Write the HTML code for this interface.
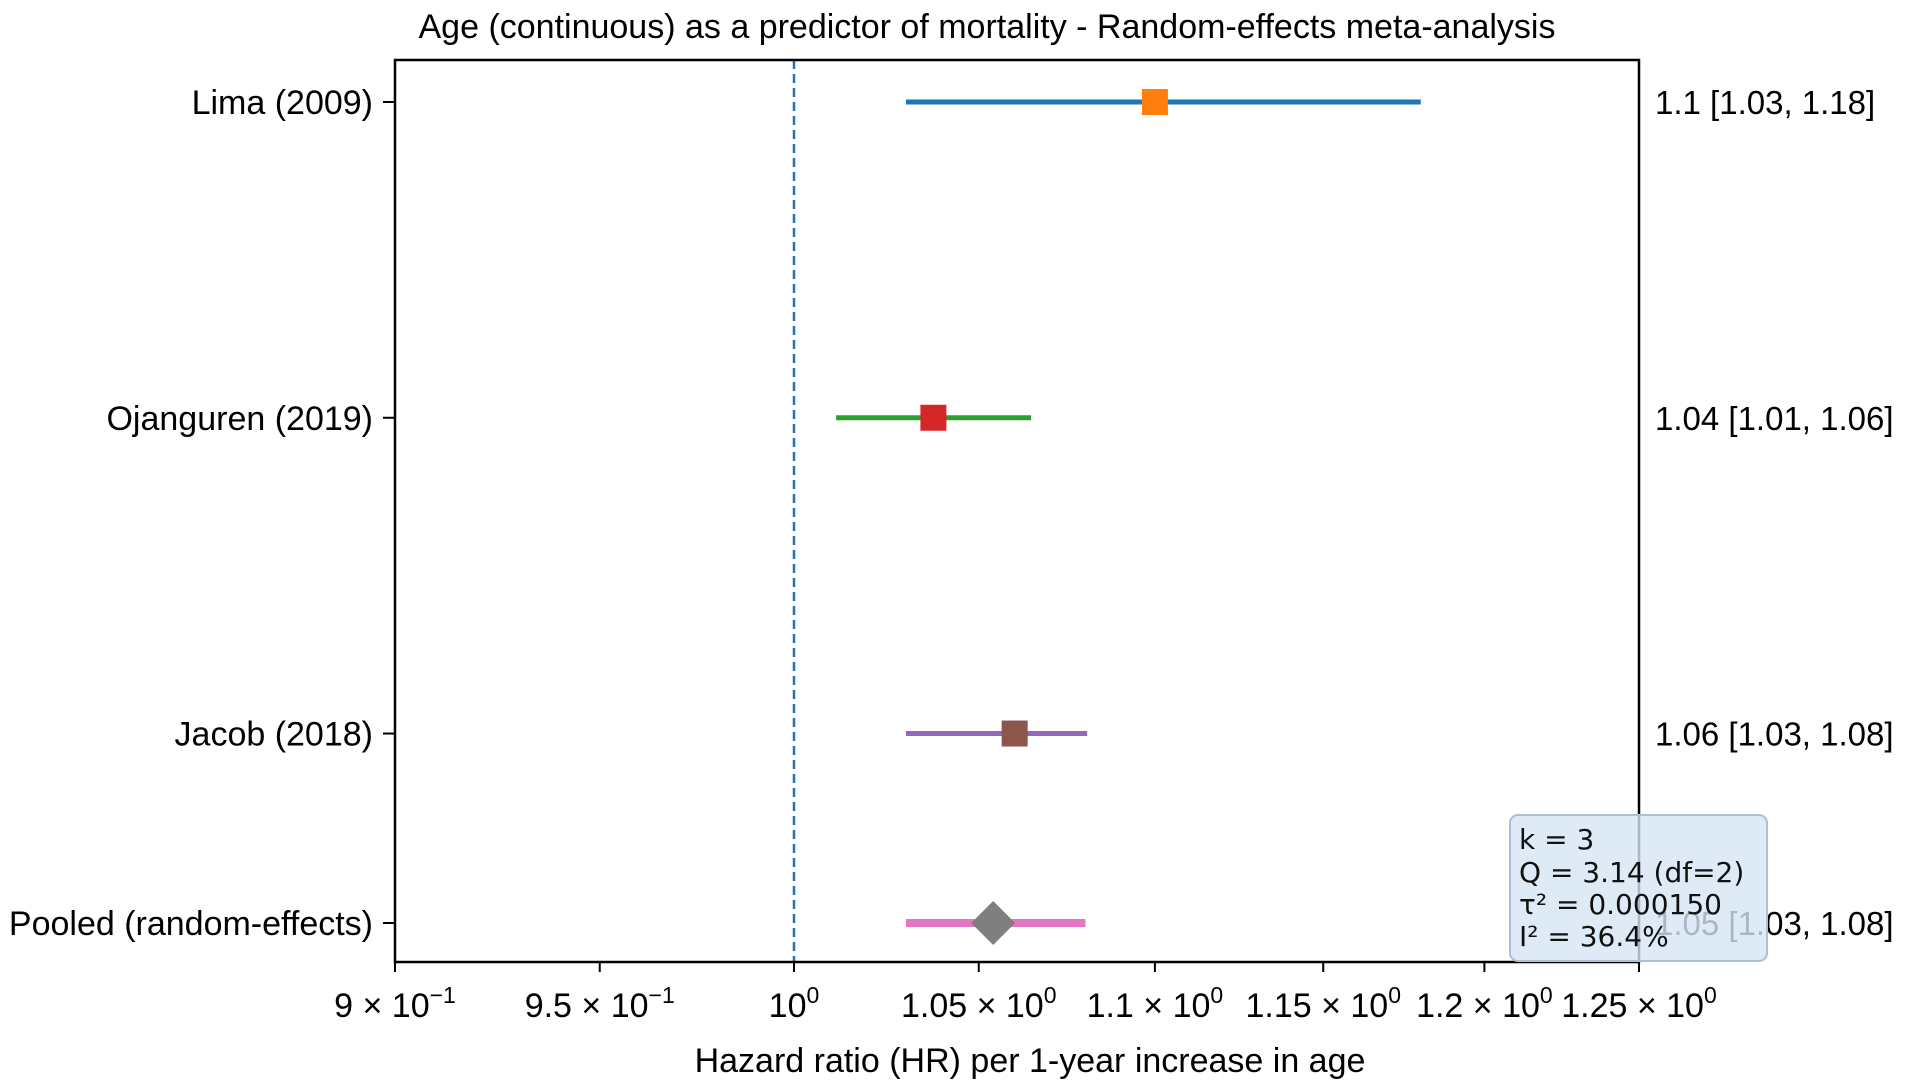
<!DOCTYPE html>
<html><head><meta charset="utf-8"><style>
body{margin:0;background:#fff;}
svg{display:block;font-family:"Liberation Sans",Arial,sans-serif;}
</style></head><body>
<svg id="chart" width="1913" height="1087" viewBox="0 0 1913 1087">
<text x="987" y="38" font-size="34" text-anchor="middle" fill="#000">Age (continuous) as a predictor of mortality - Random-effects meta-analysis</text>
<g id="plot"></g>
<g id="stats-box">
<rect x="1510" y="815" width="257" height="146" rx="8" fill="#d6e6f4" fill-opacity="0.8" stroke="#aebfd0" stroke-width="2"/>
<g font-family="'DejaVu Sans',sans-serif" font-size="28" fill="#111">
<text x="1519" y="849">k = 3</text>
<text x="1519" y="882">Q = 3.14 (df=2)</text>
<text x="1519" y="914">τ² = 0.000150</text>
<text x="1519" y="946">I² = 36.4%</text>
</g></g>
<text x="1030" y="1072" font-size="34" text-anchor="middle">Hazard ratio (HR) per 1-year increase in age</text>
</svg>
<script>
const studies = ["Lima (2009)", "Ojanguren (2019)", "Jacob (2018)", "Pooled (random-effects)"];
const estimates = [1.10, 1.0375, 1.06, 1.054];
const lower = [1.03, 1.0112, 1.03, 1.03];
const upper = [1.18, 1.0646, 1.0805, 1.08];
const rightLabels = ["1.1 [1.03, 1.18]", "1.04 [1.01, 1.06]", "1.06 [1.03, 1.08]", "1.05 [1.03, 1.08]"];
const rowPos = [3.0, 2.0, 1.0, 0.4];
const xTicks = [0.9, 0.95, 1.0, 1.05, 1.1, 1.15, 1.2, 1.25];
const xTickMant = ["9", "9.5", "", "1.05", "1.1", "1.15", "1.2", "1.25"];
const xTickExp = ["−1", "−1", "0", "0", "0", "0", "0", "0"];

const L=395,R=1639,T=60,B=962;
const xmin=0.9,xmax=1.25;
const xs=v=>L+(Math.log(v)-Math.log(xmin))/(Math.log(xmax)-Math.log(xmin))*(R-L);
const ys=p=>923-((p-0.4)/2.6)*(923-102);
const ns="http://www.w3.org/2000/svg";
const g=document.getElementById('plot');
function mk(t,a,p){const e=document.createElementNS(ns,t);for(const k in a)e.setAttribute(k,a[k]);(p||g).appendChild(e);return e;}
const lineC=["#1f77b4","#2ca02c","#9467bd","#e377c2"];
const markC=["#ff7f0e","#d62728","#8c564b","#7f7f7f"];
const ref=mk('line',{x1:xs(1),x2:xs(1),y1:T,y2:B,stroke:"#1f77b4","stroke-width":2.5,"stroke-dasharray":"9,5"});


studies.forEach((s,i)=>{
  const y=ys(rowPos[i]);
  const ci=mk('line',{x1:xs(lower[i]),x2:xs(upper[i]),y1:y,y2:y,stroke:lineC[i],"stroke-width":i==3?8:5});
  
  
  const cx=xs(estimates[i]);
  let m;
  if(i==3){m=mk('polygon',{points:`${cx},${y-22} ${cx+22},${y} ${cx},${y+22} ${cx-22},${y}`,fill:markC[i]});}
  else{m=mk('rect',{x:cx-13,y:y-13,width:26,height:26,fill:markC[i]});}
  
  
  mk('line',{x1:L-12,x2:L,y1:y,y2:y,stroke:"#000","stroke-width":2});
  const t=mk('text',{x:L-22,y:y+12,"font-size":34,"text-anchor":"end"});t.textContent=s;
  
  
  const r=mk('text',{x:1655,y:y+12,"font-size":33});r.textContent=rightLabels[i];
  
  
});
const frame=mk('rect',{x:L,y:T,width:R-L,height:B-T,fill:"none",stroke:"#000","stroke-width":2.5});


xTicks.forEach((v,i)=>{
  const x=xs(v);
  mk('line',{x1:x,x2:x,y1:B,y2:B+10,stroke:"#000","stroke-width":2});
  const t=mk('text',{x:x,y:1017,"font-size":34,"text-anchor":"middle"});
  
  
  t.textContent=(xTickMant[i]?xTickMant[i]+" × ":"")+"10";
  const sp=mk('tspan',{dy:-14,"font-size":23},t);sp.textContent=xTickExp[i];
});
</script>
</body></html>
